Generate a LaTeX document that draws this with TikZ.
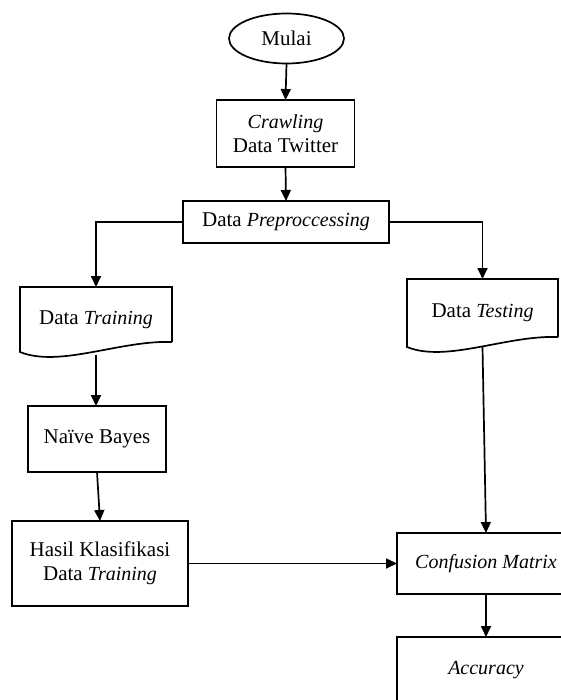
\documentclass[tikz,border=0pt]{standalone}
\usepackage{fontspec}
\setmainfont{Liberation Serif}
\usetikzlibrary{shapes.geometric,arrows.meta,calc}
\newcommand{\ital}[1]{{\fontsize{20}{24}\selectfont\itshape #1}}
\tikzset{
  lw/.style={line width=1.7pt},
  base/.style={lw, inner sep=0pt, outer sep=0pt, align=center, font=\fontsize{21}{24}\selectfont},
  proc/.style={base, draw, rectangle},
  term/.style={base, draw, ellipse},
  docu/.style={base, rectangle},
  arr/.style={lw, -{Triangle[length=11pt,width=10pt]}},
  ln/.style={lw}
}
\newcommand{\docwave}[1]{%
  \draw[ln] ($(#1.south east)+(0,-10)$) -- (#1.north east) -- (#1.north west) -- (#1.south west)
    .. controls ($(#1.south west)!0.26!(#1.south east)+(0,16)$) and ($(#1.south west)!0.66!(#1.south east)+(0,-12)$) .. ($(#1.south east)+(0,-10)$);}
\begin{document}
\begin{tikzpicture}[x=1pt,y=-1pt]
\useasboundingbox (0,0) rectangle (561,700);
\clip (0,0) rectangle (561,700);
\node[term, minimum width=115pt, minimum height=50pt] (mulai) at (286.5,38.5) {Mulai};
\node[proc, minimum width=138pt, minimum height=67pt] (crawl) at (285.5,133.5) {\ital{Crawling}\\Data Twitter};
\node[proc, minimum width=206pt, minimum height=42pt] (prep) at (286,222) {Data \ital{Preproccessing}};
\node[docu, minimum width=152pt, minimum height=65pt] (dtrain) at (96,319.5) {Data \ital{Training}};
\node[docu, minimum width=151pt, minimum height=68pt] (dtest) at (482.5,313) {Data \ital{Testing}};
\node[proc, minimum width=138pt, minimum height=66pt] (naive) at (97,439) {Naïve Bayes};
\node[proc, minimum width=176pt, minimum height=85pt] (hasil) at (100,563.5) {Hasil Klasifikasi\\Data \ital{Training}};
\node[proc, minimum width=178pt, minimum height=61pt] (conf) at (486,563.5) {\ital{Confusion Matrix}};
\node[proc, minimum width=178pt, minimum height=66pt] (acc) at (486,670) {\ital{Accuracy}};
\docwave{dtrain}
\docwave{dtest}
\draw[arr] (mulai.south) -- (crawl.north);
\draw[arr] (crawl.south) -- (prep.north);
\draw[arr] (prep.west) -| (dtrain.north);
\draw[arr] (prep.east) -| (dtest.north);
\draw[arr, shorten <=3pt] (dtrain.south) -- (dtrain.south |- naive.north);
\draw[arr] (naive.south) -- (hasil.north);
\draw[arr] (hasil.east) -- (conf.west);
\draw[arr] (dtest.south) -- (conf.north);
\draw[arr] (conf.south) -- (acc.north);
\end{tikzpicture}
\end{document}
